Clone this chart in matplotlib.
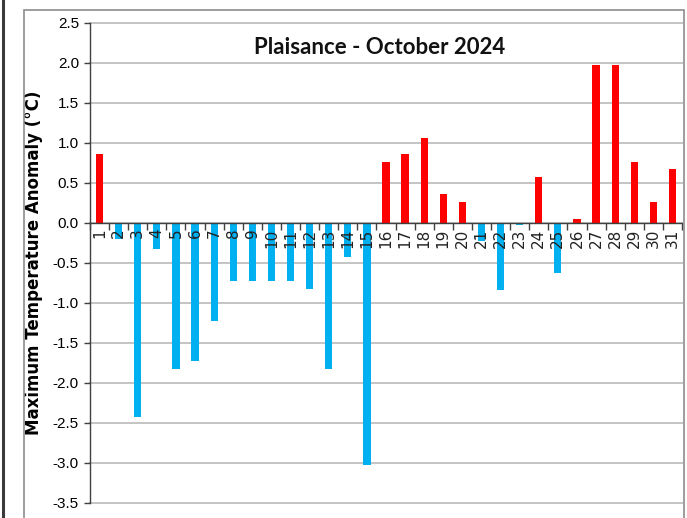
import matplotlib
matplotlib.use("Agg")
import matplotlib.pyplot as plt
from matplotlib.patches import Rectangle
from matplotlib.lines import Line2D
import numpy as np

days = list(range(1, 32))
day_labels = [str(d) for d in days]
anomaly = [0.86, -0.2, -2.43, -0.33, -1.82, -1.72, -1.22, -0.73, -0.73, -0.73,
           -0.73, -0.83, -1.82, -0.43, -3.03, 0.76, 0.86, 1.06, 0.36, 0.26,
           -0.22, -0.84, -0.03, 0.57, -0.63, 0.05, 1.97, 1.97, 0.76, 0.26, 0.67]
y_ticks = [2.5, 2.0, 1.5, 1.0, 0.5, 0.0, -0.5, -1.0, -1.5, -2.0, -2.5, -3.0, -3.5]
title = "Plaisance - October 2024"
ylabel = "Maximum Temperature Anomaly (\u00b0C)"

W, H = 687, 518
fig = plt.figure(figsize=(W / 100, H / 100), dpi=100)
fig.patch.set_facecolor("white")

# outer decorations
fig.add_artist(Rectangle((24 / W, -0.05), 660 / W, (H - 10) / H + 0.05,
                         transform=fig.transFigure, fill=False,
                         edgecolor="#8c8c8c", linewidth=1.2))
fig.add_artist(Line2D([2.5 / W, 2.5 / W], [0, 1], transform=fig.transFigure,
                      color="#3a3a3a", linewidth=2.2))

ax = fig.add_axes([90 / W, (H - 503) / H, (682 - 90) / W, (503 - 23) / H])

# horizontal gridlines behind bars
for t in y_ticks:
    ax.axhline(t, color="#c4c4c4", linewidth=1.4, zorder=0.5, clip_on=False)

colors = ["#FF0000" if v >= 0 else "#00B0F0" for v in anomaly]
ax.bar(days, anomaly, width=0.38, color=colors, zorder=1.5)

ax.set_xlim(0.5, 31.5)
ax.set_ylim(-3.5, 2.5)
ax.set_yticks(y_ticks)
ax.set_yticklabels([f"{t:.1f}" for t in y_ticks],
                   family=["Liberation Sans Narrow", "Liberation Sans"], fontsize=11)
ax.tick_params(axis="y", direction="out", length=4, width=1, color="#404040", pad=4)
ax.set_axisbelow(False)

for s in ["top", "right"]:
    ax.spines[s].set_visible(False)
ax.spines["left"].set_color("#404040")
ax.spines["left"].set_linewidth(1.0)
ax.spines["bottom"].set_position(("data", 0))
ax.spines["bottom"].set_color("#404040")
ax.spines["bottom"].set_linewidth(1.0)

ax.set_xticks(np.arange(0.5, 32, 1.0))
ax.set_xticklabels([])
ax.tick_params(axis="x", which="major", direction="out", length=5, width=1, color="#404040")
ax.set_xticks(days, minor=True)
ax.set_xticklabels(day_labels, minor=True, rotation=90, fontsize=11,
                   family="DejaVu Sans", color="#222222")
ax.tick_params(axis="x", which="minor", length=0, pad=4)

ax.set_ylabel(ylabel, fontsize=12, fontweight="bold", family="DejaVu Sans")
ax.yaxis.set_label_coords(-(90 - 43) / (682 - 90), 0.5)

fig.text(380 / W, 1 - 47 / H, title, ha="center", va="center", fontsize=16,
         fontweight="bold", family=["Lato", "Liberation Sans"], color="#111111")

fig.savefig("out.png", dpi=100)
